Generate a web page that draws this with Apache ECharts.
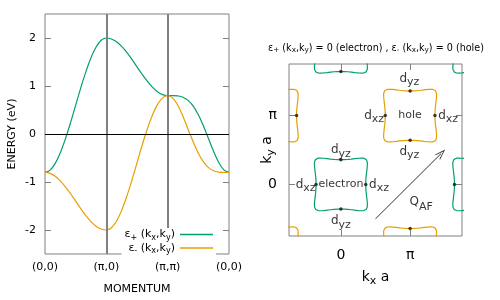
<!DOCTYPE html>
<html><head><meta charset="utf-8">
<script src="https://cdn.jsdelivr.net/npm/echarts@6/dist/echarts.min.js"></script>
<style>html,body{margin:0;padding:0;background:#fff}#c{width:500px;height:300px}</style>
</head><body><div id="c"></div>
<script>
// ---- Band structure along (0,0) -> (pi,0) -> (pi,pi) -> (0,0) ----
const bandPath = [0,0.083,0.167,0.25,0.333,0.417,0.5,0.583,0.667,0.75,0.833,0.917,
  1,1.083,1.167,1.25,1.333,1.417,1.5,1.583,1.667,1.75,1.833,1.917,
  2,2.083,2.167,2.25,2.333,2.417,2.5,2.583,2.667,2.75,2.833,2.917,3];
const epsPlus = [-0.8,-0.752,-0.612,-0.39,-0.1,0.238,0.6,0.962,1.3,1.59,1.812,1.952,
  2.0,1.98,1.92,1.824,1.7,1.555,1.4,1.245,1.1,0.976,0.88,0.82,
  0.8,0.8,0.793,0.766,0.7,0.58,0.4,0.166,-0.1,-0.366,-0.593,-0.746,-0.8];
const epsMinus = [-0.8,-0.82,-0.88,-0.976,-1.1,-1.245,-1.4,-1.555,-1.7,-1.824,-1.92,-1.98,
  -2.0,-1.952,-1.812,-1.59,-1.3,-0.962,-0.6,-0.238,0.1,0.39,0.612,0.752,
  0.8,0.746,0.593,0.366,0.1,-0.166,-0.4,-0.58,-0.7,-0.766,-0.793,-0.8,-0.8];
const pathTickValues = [0,1,2,3];
const pathTickLabels = ['(0,0)','(π,0)','(π,π)','(0,0)'];
const energyTicks = [-2,-1,0,1,2];
const legendLabels = ['ε{s|+} (k{s|x},k{s|y})','ε{s|-} (k{s|x},k{s|y})'];

// ---- Fermi surface (k in units of pi) ----
const kTickValues = [0,1];
const kTickLabels = ['0','π'];
const pocketShape = [
 [0.359,0],[0.36,0.05],[0.363,0.1],[0.3685,0.15],[0.3745,0.2],[0.38,0.25],[0.383,0.3],[0.3805,0.33],[0.374,0.35],[0.364,0.364],
 [0.35,0.374],[0.33,0.3805],[0.3,0.383],[0.25,0.38],[0.2,0.3745],[0.15,0.3685],[0.1,0.363],[0.05,0.36],[0,0.359],
 [-0.05,0.36],[-0.1,0.363],[-0.15,0.3685],[-0.2,0.3745],[-0.25,0.38],[-0.3,0.383],[-0.33,0.3805],[-0.35,0.374],[-0.364,0.364],
 [-0.374,0.35],[-0.3805,0.33],[-0.383,0.3],[-0.38,0.25],[-0.3745,0.2],[-0.3685,0.15],[-0.363,0.1],[-0.36,0.05],[-0.359,0],
 [-0.36,-0.05],[-0.363,-0.1],[-0.3685,-0.15],[-0.3745,-0.2],[-0.38,-0.25],[-0.383,-0.3],[-0.3805,-0.33],[-0.374,-0.35],[-0.364,-0.364],
 [-0.35,-0.374],[-0.33,-0.3805],[-0.3,-0.383],[-0.25,-0.38],[-0.2,-0.3745],[-0.15,-0.3685],[-0.1,-0.363],[-0.05,-0.36],[0,-0.359],
 [0.05,-0.36],[0.1,-0.363],[0.15,-0.3685],[0.2,-0.3745],[0.25,-0.38],[0.3,-0.383],[0.33,-0.3805],[0.35,-0.374],[0.364,-0.364],
 [0.374,-0.35],[0.3805,-0.33],[0.383,-0.3],[0.38,-0.25],[0.3745,-0.2],[0.3685,-0.15],[0.363,-0.1],[0.36,-0.05],[0.359,0]
];
const pocketMidpoints = [[0.359,0],[0,0.359],[-0.359,0],[0,-0.359]];
const electronCenters = [[0,0],[0,2],[2,0],[2,2]];
const holeCenters = [[1,1],[-1,1],[1,-1],[-1,-1]];
const qAF = [[0.5,-0.5],[1.45,0.45]];

// annotation placement (layout, in k/pi units)
const annotations = [
 {at:[0,0.50], text:'d{s|yz}'}, {at:[0,-0.53], text:'d{s|yz}'},
 {at:[-0.51,0], text:'d{s|xz}'}, {at:[0.55,0], text:'d{s|xz}'},
 {at:[0,0], text:'{e|electron}'},
 {at:[0.99,1.54], text:'d{s|yz}'}, {at:[0.99,0.48], text:'d{s|yz}'},
 {at:[0.48,1], text:'d{s|xz}'}, {at:[1.55,1], text:'d{s|xz}'},
 {at:[1,1], text:'{e|hole}'},
 {at:[1.16,-0.26], text:'Q{q|AF}'}
];

const GREEN = '#009e73', ORANGE = '#e69f00', FRAME = '#808080';
const FONT = 'DejaVu Sans';
const subRich = {s:{fontSize:8, fontFamily:FONT, color:'#000', padding:[6,0,0,0]}};

const chart = echarts.init(document.getElementById('c'), null, {renderer:'canvas'});

const series = [];
series.push({
  name:'plus', type:'line', xAxisIndex:0, yAxisIndex:0, symbol:'none', smooth:0.4,
  data: bandPath.map((x,i)=>[x, epsPlus[i]]),
  lineStyle:{color:GREEN, width:1.2}, itemStyle:{color:GREEN}, z:3,
  markLine:{symbol:'none', silent:true, label:{show:false}, animation:false,
    data:[{xAxis:pathTickValues[1], lineStyle:{color:FRAME, width:2, type:'solid'}},
          {xAxis:pathTickValues[2], lineStyle:{color:FRAME, width:2, type:'solid'}},
          {yAxis:0, lineStyle:{color:'#000', width:1, type:'solid'}}]}
});
series.push({
  name:'minus', type:'line', xAxisIndex:0, yAxisIndex:0, symbol:'none', smooth:0.4,
  data: bandPath.map((x,i)=>[x, epsMinus[i]]),
  lineStyle:{color:ORANGE, width:1.2}, itemStyle:{color:ORANGE}, z:3
});
function pocket(c, color){
  return {type:'line', xAxisIndex:1, yAxisIndex:2, symbol:'none', silent:true,
    data: pocketShape.map(p=>[c[0]+p[0], c[1]+p[1]]),
    lineStyle:{color:color, width:1.2}, clip:true, z:3};
}
electronCenters.forEach(c=>series.push(pocket(c, GREEN)));
holeCenters.forEach(c=>series.push(pocket(c, ORANGE)));
const dots = [];
electronCenters.concat(holeCenters).forEach(c=>pocketMidpoints.forEach(m=>dots.push([c[0]+m[0], c[1]+m[1]])));
series.push({type:'scatter', xAxisIndex:1, yAxisIndex:2, data:dots, symbolSize:3.5,
  itemStyle:{color:'#111'}, silent:true, clip:true, z:4});
series.push({type:'scatter', xAxisIndex:1, yAxisIndex:2, silent:true, z:5, symbolSize:1,
  itemStyle:{color:'rgba(0,0,0,0)'},
  data: annotations.map(a=>({value:a.at, name:a.text})),
  label:{show:true, position:'inside', formatter:p=>p.name, color:'#000', fontSize:12, fontFamily:FONT,
    rich:{s:{fontSize:11, fontFamily:FONT, color:'#000', padding:[8,0,0,0]},
          q:{fontSize:11, fontFamily:FONT, color:'#000', padding:[9,0,0,0]},
          e:{fontSize:11, fontFamily:FONT, color:'#000'}}},
  markLine:{silent:true, animation:false, symbol:['none','path://M5,0 L10,12 L9,12.6 L5,3 L1,12.6 L0,12 Z'],
    symbolSize:[7,11], label:{show:false},
    lineStyle:{color:'#333', width:1, type:'solid'},
    data:[[{coord:qAF[0]},{coord:qAF[1]}]]}
});

const tickStyle = {show:true, inside:true, length:6, lineStyle:{color:FRAME}};
const noLine = {show:false, onZero:false};
const lab = (extra)=>Object.assign({color:'#000', fontFamily:FONT, fontSize:11}, extra);

chart.setOption({
  animation:false,
  backgroundColor:'#fff',
  textStyle:{fontFamily:FONT},
  title:{text:'ε{s|+} (k{s|x},k{s|y}) = 0 (electron) , ε{s|-} (k{s|x},k{s|y}) = 0 (hole)',
    left:371, top:37, textAlign:'center',
    textStyle:{fontSize:9.6, fontWeight:'normal', color:'#000', fontFamily:FONT,
      rich:{s:{fontSize:7.2, fontFamily:FONT, color:'#000', padding:[5,0,0,0]}}}},
  legend:{data:[{name:'plus', icon:'rect'},{name:'minus', icon:'rect'}], orient:'vertical', align:'right', right:284, top:228,
    itemWidth:33, itemHeight:1.5, itemGap:1, backgroundColor:'#fff', padding:[1,3,4,3], z:10,
    formatter:n=>legendLabels[n==='plus'?0:1],
    textStyle:{fontSize:11, color:'#000', fontFamily:FONT, rich:subRich}},
  grid:[
    {left:45, top:14, width:184, height:245, show:true, borderColor:FRAME, borderWidth:1},
    {left:289, top:64, width:173, height:172, show:true, borderColor:FRAME, borderWidth:1}
  ],
  xAxis:[
    {gridIndex:0, type:'value', min:0, max:3, interval:1,
     axisLine:noLine, axisTick:{show:false}, splitLine:{show:false},
     axisLabel:lab({margin:8, formatter:v=>pathTickLabels[pathTickValues.indexOf(v)]}),
     name:'MOMENTUM', nameLocation:'middle', nameGap:30, nameMoveOverlap:false, nameTextStyle:lab({})},
    {gridIndex:1, type:'value', min:-0.75, max:1.75,
     axisLine:noLine, splitLine:{show:false},
     axisTick:Object.assign({customValues:kTickValues}, tickStyle),
     axisLabel:lab({fontSize:14, margin:12, customValues:kTickValues, formatter:v=>kTickLabels[kTickValues.indexOf(v)]}),
     name:'k{s|x} a', nameLocation:'middle', nameGap:32, nameMoveOverlap:false,
     nameTextStyle:lab({fontSize:14, rich:{s:{fontSize:11, fontFamily:FONT, color:'#000', padding:[8,0,0,0]}}})},
    {gridIndex:1, type:'value', position:'top', min:-0.75, max:1.75,
     axisLine:noLine, splitLine:{show:false}, axisLabel:{show:false},
     axisTick:Object.assign({customValues:kTickValues}, tickStyle)}
  ],
  yAxis:[
    {gridIndex:0, type:'value', min:-2.5, max:2.5,
     axisLine:noLine, splitLine:{show:false},
     axisTick:Object.assign({customValues:energyTicks}, tickStyle),
     axisLabel:lab({margin:9, customValues:energyTicks, formatter:v=>String(v)}),
     name:'ENERGY (eV)', nameLocation:'middle', nameGap:27, nameMoveOverlap:false, nameTextStyle:lab({})},
    {gridIndex:0, type:'value', position:'right', min:-2.5, max:2.5,
     axisLine:noLine, splitLine:{show:false}, axisLabel:{show:false},
     axisTick:Object.assign({customValues:energyTicks}, tickStyle)},
    {gridIndex:1, type:'value', min:-0.75, max:1.75,
     axisLine:noLine, splitLine:{show:false},
     axisTick:Object.assign({customValues:kTickValues}, tickStyle),
     axisLabel:lab({fontSize:14, margin:12, customValues:kTickValues, formatter:v=>kTickLabels[kTickValues.indexOf(v)]}),
     name:'k{s|y} a', nameLocation:'middle', nameGap:12, nameMoveOverlap:false,
     nameTextStyle:lab({fontSize:14, rich:{s:{fontSize:11, fontFamily:FONT, color:'#000', padding:[8,0,0,0]}}})},
    {gridIndex:1, type:'value', position:'right', min:-0.75, max:1.75,
     axisLine:noLine, splitLine:{show:false}, axisLabel:{show:false},
     axisTick:Object.assign({customValues:kTickValues}, tickStyle)}
  ],
  series: series
});
</script>
</body></html>
